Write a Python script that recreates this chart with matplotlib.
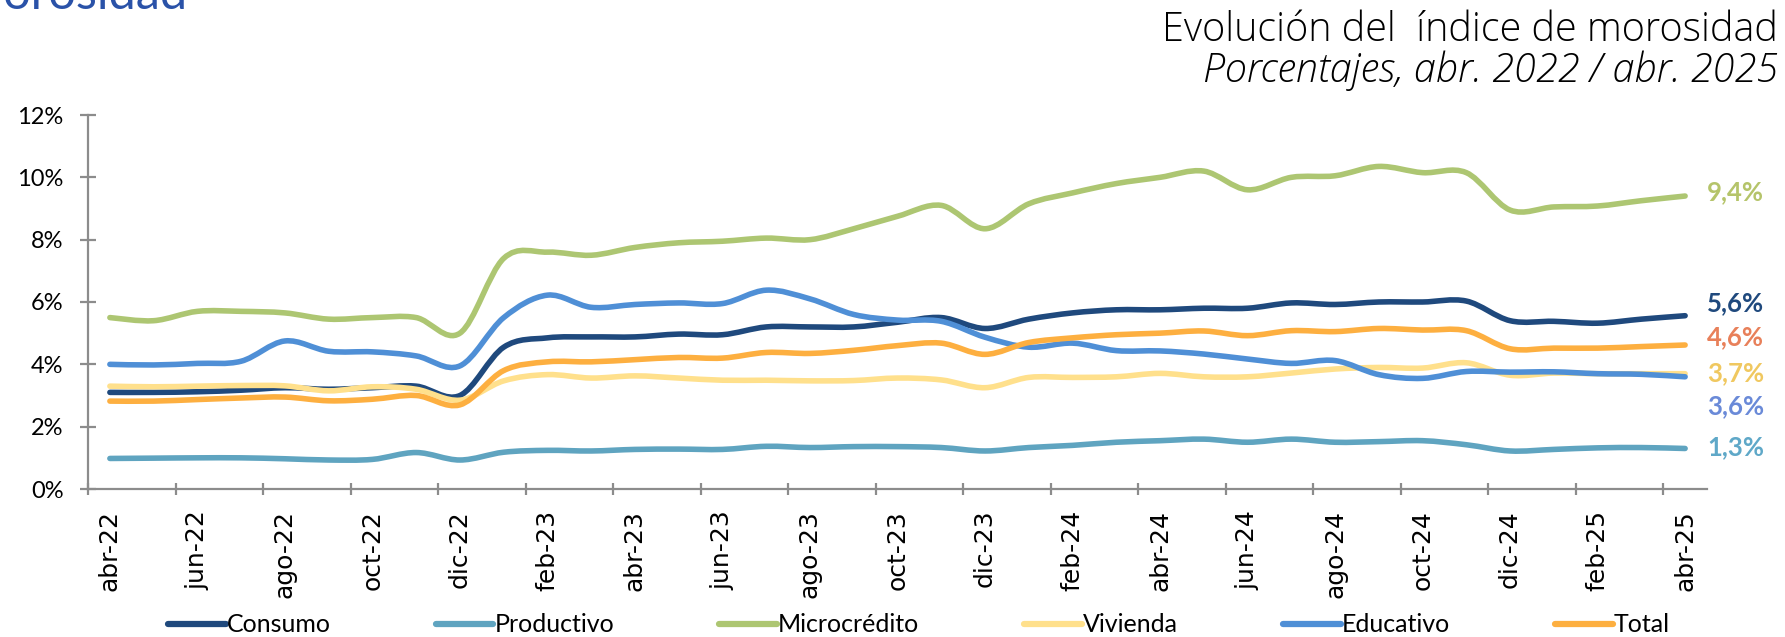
import numpy as np
import matplotlib
matplotlib.use("Agg")
from matplotlib import pyplot as plt
from matplotlib.path import Path
from matplotlib.patches import PathPatch
from matplotlib.lines import Line2D

# monthly data, abr-22 .. abr-25
meses = ["abr", "may", "jun", "jul", "ago", "sep", "oct", "nov", "dic", "ene", "feb", "mar"]
anios = ["22"] * 9 + ["23"] * 12 + ["24"] * 12 + ["25"] * 4
periodos = [meses[i % 12] + "-" + anios[i] for i in range(37)]

consumo = [3.10, 3.10, 3.12, 3.17, 3.25, 3.20, 3.25, 3.30, 3.00, 4.55, 4.85, 4.88, 4.88,
           4.97, 4.95, 5.20, 5.20, 5.20, 5.35, 5.50, 5.15, 5.45, 5.65, 5.75, 5.75, 5.80,
           5.80, 5.97, 5.92, 6.00, 6.00, 6.03, 5.40, 5.38, 5.32, 5.45, 5.56]
productivo = [0.98, 0.99, 1.00, 1.00, 0.97, 0.93, 0.95, 1.17, 0.93, 1.18, 1.24, 1.22, 1.27,
              1.28, 1.27, 1.37, 1.33, 1.36, 1.36, 1.33, 1.22, 1.33, 1.40, 1.50, 1.55, 1.60,
              1.50, 1.60, 1.50, 1.52, 1.55, 1.42, 1.22, 1.27, 1.32, 1.33, 1.30]
microcredito = [5.50, 5.40, 5.70, 5.70, 5.65, 5.45, 5.50, 5.50, 5.00, 7.40, 7.60, 7.50, 7.75,
                7.90, 7.95, 8.05, 8.00, 8.35, 8.75, 9.10, 8.35, 9.15, 9.50, 9.80, 10.00, 10.20,
                9.60, 10.00, 10.05, 10.35, 10.15, 10.15, 8.95, 9.05, 9.08, 9.25, 9.40]
vivienda = [3.30, 3.28, 3.30, 3.32, 3.31, 3.15, 3.28, 3.20, 2.85, 3.47, 3.67, 3.56, 3.63,
            3.56, 3.49, 3.49, 3.47, 3.48, 3.56, 3.50, 3.25, 3.58, 3.58, 3.60, 3.71, 3.60,
            3.60, 3.72, 3.85, 3.90, 3.88, 4.05, 3.65, 3.72, 3.70, 3.70, 3.70]
educativo = [4.00, 3.98, 4.03, 4.10, 4.75, 4.42, 4.40, 4.27, 3.95, 5.50, 6.22, 5.83, 5.92,
             5.97, 5.95, 6.38, 6.10, 5.60, 5.42, 5.38, 4.87, 4.55, 4.68, 4.44, 4.43, 4.33,
             4.17, 4.03, 4.12, 3.67, 3.55, 3.77, 3.75, 3.76, 3.70, 3.68, 3.60]
total = [2.82, 2.82, 2.87, 2.92, 2.95, 2.83, 2.88, 3.00, 2.70, 3.80, 4.08, 4.08, 4.15,
         4.22, 4.20, 4.38, 4.35, 4.45, 4.60, 4.68, 4.32, 4.70, 4.85, 4.95, 5.00, 5.07,
         4.92, 5.08, 5.05, 5.15, 5.10, 5.08, 4.50, 4.52, 4.52, 4.57, 4.62]

nombres = ["Consumo", "Productivo", "Microcrédito", "Vivienda", "Educativo", "Total"]
series = [consumo, productivo, microcredito, vivienda, educativo, total]
colores = ["#1F497D", "#5FA4C0", "#ADC672", "#FFE08C", "#4F8FD6", "#FDAF40"]
# end labels: colour and vertical spot (in % units) so they don't overlap
col_etiq = ["#1F497D", "#5FA8C8", "#B5C46A", "#F0C860", "#6A8AD8", "#E8805A"]
y_etiq = [5.97, 1.35, 9.53, 3.72, 2.66, 4.88]

FONT = "Lato"
TITLE_FONT = "Open Sans"


def smooth_path(x, y):
    # excel-like smoothed line: cubic bezier through every point
    x = np.asarray(x, float)
    y = np.asarray(y, float)
    n = len(x)
    verts = [(x[0], y[0])]
    codes = [Path.MOVETO]
    for i in range(n - 1):
        xa, ya = (x[i - 1], y[i - 1]) if i > 0 else (x[i], y[i])
        xb, yb = (x[i + 2], y[i + 2]) if i + 2 < n else (x[i + 1], y[i + 1])
        c1 = (x[i] + (x[i + 1] - xa) / 6, y[i] + (y[i + 1] - ya) / 6)
        c2 = (x[i + 1] - (xb - x[i]) / 6, y[i + 1] - (yb - y[i]) / 6)
        verts += [c1, c2, (x[i + 1], y[i + 1])]
        codes += [Path.CURVE4] * 3
    return Path(verts, codes)


fig = plt.figure(figsize=(17.85, 6.37), dpi=100)
ax = fig.add_axes([88 / 1785, 1 - 489 / 637, (1707 - 88) / 1785, (489 - 115) / 637])

xs = np.arange(len(periodos)) + 0.5
handles = []
for nombre, vals, c in zip(nombres, series, colores):
    p = PathPatch(smooth_path(xs, vals), fill=False, edgecolor=c, lw=4.0,
                  capstyle="round", joinstyle="round")
    ax.add_patch(p)
    handles.append(Line2D([], [], color=c, lw=4.5, solid_capstyle="round"))

for vals, c, ye in zip(series, col_etiq, y_etiq):
    txt = "{:.1f}%".format(vals[-1]).replace(".", ",")
    ax.text(37.0, ye, txt, color=c, fontsize=18.5, fontweight="bold",
            family=FONT, ha="left", va="center", clip_on=False)

ax.set_xlim(0, 37)
ax.set_ylim(0, 12)

for s in ["top", "right"]:
    ax.spines[s].set_visible(False)
for s in ["left", "bottom"]:
    ax.spines[s].set_color("#8C8C8C")
    ax.spines[s].set_linewidth(1.6)

ax.set_yticks(np.arange(0, 13, 2))
ax.set_yticklabels(["{:d}%".format(v) for v in range(0, 13, 2)], family=FONT, fontsize=17)
ax.tick_params(axis="y", direction="inout", length=11, width=1.6, color="#8C8C8C", pad=12)

ax.set_xticks(np.arange(0, 37, 2))
ax.set_xticklabels([])
ax.set_xticks(xs[::2], minor=True)
ax.set_xticklabels(periodos[::2], minor=True, rotation=90, fontsize=18, va="top")
ax.tick_params(axis="x", which="major", direction="inout", length=9, width=1.6, color="#8C8C8C")
ax.tick_params(axis="x", which="minor", length=0, pad=15)

fig.legend(handles, nombres, loc="center", bbox_to_anchor=(919 / 1785, 1 - 625 / 637),
           ncol=6, frameon=False, handlelength=2.3, handletextpad=0.05, columnspacing=4.2,
           prop={"family": FONT, "size": 18})

fig.text(1778 / 1785, 1 - 41 / 637, "Evolución del  índice de morosidad", ha="right",
         va="baseline", fontsize=28.5, family=TITLE_FONT, fontweight="light", color="#000000")
fig.text(1778 / 1785, 1 - 82 / 637, "Porcentajes, abr. 2022 / abr. 2025", ha="right",
         va="baseline", fontsize=28.5, family=TITLE_FONT, fontweight="light", style="italic",
         color="#000000")
fig.text(188 / 1785, 1 - 9 / 637, "Morosidad", ha="right", va="baseline",
         fontsize=35, family=FONT, color="#2A52A8")

fig.savefig("out.png", dpi=100)
